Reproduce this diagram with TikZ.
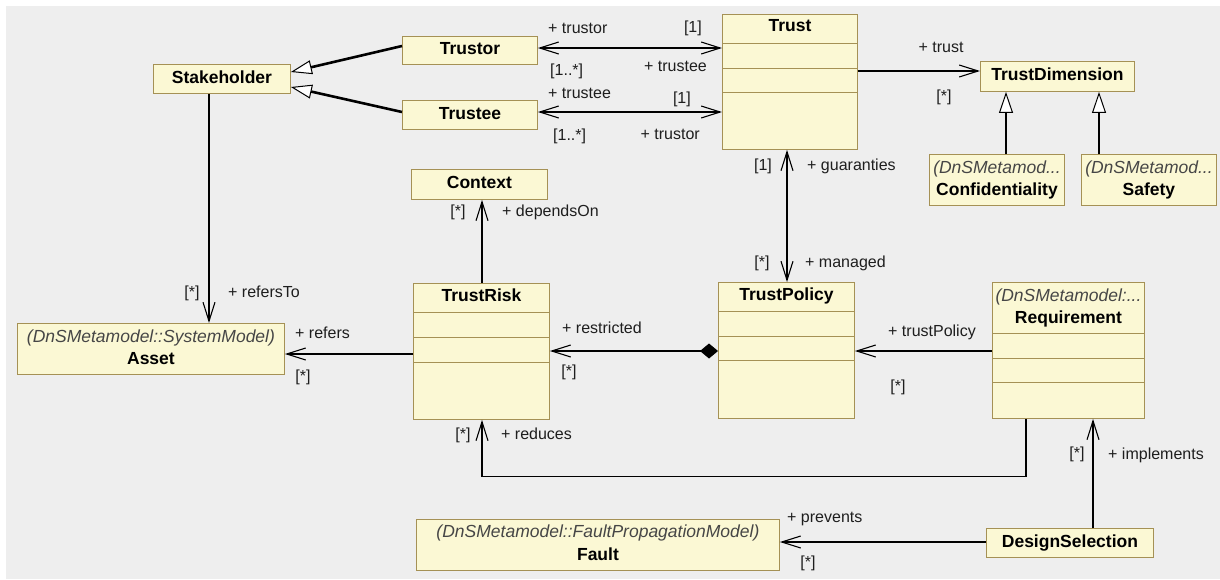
\documentclass[tikz,border=0pt]{standalone}
\usepackage{fontspec}
\setmainfont{Liberation Sans}
\usetikzlibrary{arrows.meta,calc}

\definecolor{bgray}{RGB}{238,238,238}
\definecolor{boxfill}{RGB}{251,248,212}
\definecolor{boxline}{RGB}{165,145,85}
\definecolor{stereogray}{RGB}{70,70,70}
\definecolor{lblgray}{RGB}{30,30,30}

\newcommand\lblsize{\fontsize{16}{19}\selectfont}
\newcommand\namesize{\fontsize{17.5}{21}\selectfont}

\tikzset{
  cls/.style={rectangle, draw=boxline, fill=boxfill, line width=0.9pt, inner sep=0pt, anchor=north west},
  cname/.style={font=\namesize\bfseries, inner sep=0pt, text height=12.5pt, text depth=3.6pt},
  cstereo/.style={font=\namesize\itshape, text=stereogray, inner sep=0pt, text height=12.5pt, text depth=3.6pt},
  role/.style={font=\lblsize, text=lblgray, inner sep=0pt, text height=11.5pt, text depth=3.3pt},
  complin/.style={draw=boxline, line width=0.9pt},
  assoc/.style={line width=1.1pt, black},
  nav/.style={assoc, -{Straight Barb[length=19pt,width=12pt]}},
  binav/.style={assoc, {Straight Barb[length=19pt,width=12pt]}-{Straight Barb[length=19pt,width=12pt]}},
  compo/.style={assoc, {Diamond[length=18pt,width=15pt]}-{Straight Barb[length=19pt,width=12pt]}},
  gen/.style={line width=2.6pt, black, -{Triangle[length=21pt,width=14pt,line width=1pt,fill=white]}},
}

% horizontal compartment separator inside a class box
\newcommand\compsep[2]{\draw[complin] ($(#1.north west)+(0,#2)$) -- ($(#1.north east)+(0,#2)$);}

\begin{document}
\begin{tikzpicture}[x=1pt,y=-1pt]
\useasboundingbox (0,0) rectangle (1220,579);
\fill[white] (0,0) rectangle (1220,579);
\fill[bgray] (6,6) rectangle (1220,579);

% ---------- classes ----------
\node[cls, cname, minimum width=137pt, minimum height=29pt] (stake) at (153,64) {Stakeholder};
\node[cls, cname, minimum width=135pt, minimum height=28pt] (trustor) at (402,36) {Trustor};
\node[cls, cname, minimum width=135pt, minimum height=29pt] (trustee) at (402,100) {Trustee};

\node[cls, minimum width=135pt, minimum height=135pt] (trust) at (722,14) {};
\node[cname] (trust-n) at ($(trust.north)+(0,13.5)$) {Trust};
\compsep{trust}{29}\compsep{trust}{54}\compsep{trust}{78}

\node[cls, cname, minimum width=154pt, minimum height=30pt] (tdim) at (980,61) {TrustDimension};

\node[cls, minimum width=135pt, minimum height=51pt] (conf) at (929,154) {};
\node[cstereo] (conf-s) at ($(conf.north)+(0,15)$) {(DnSMetamod...};
\node[cname] (conf-n) at ($(conf.north)+(0,37.5)$) {Confidentiality};

\node[cls, minimum width=135pt, minimum height=51pt] (safety) at (1081,154) {};
\node[cstereo] (safety-s) at ($(safety.north)+(0,15)$) {(DnSMetamod...};
\node[cname] (safety-n) at ($(safety.north)+(0,37.5)$) {Safety};

\node[cls, cname, minimum width=136pt, minimum height=30pt] (context) at (411,169) {Context};

\node[cls, minimum width=136pt, minimum height=136pt] (trisk) at (413,283) {};
\node[cname] (trisk-n) at ($(trisk.north)+(0,14)$) {TrustRisk};
\compsep{trisk}{29}\compsep{trisk}{54}\compsep{trisk}{79}

\node[cls, minimum width=267pt, minimum height=51pt] (asset) at (17,323) {};
\node[cstereo] (asset-s) at ($(asset.north)+(0,15.5)$) {(DnSMetamodel::SystemModel)};
\node[cname] (asset-n) at ($(asset.north)+(0,37)$) {Asset};

\node[cls, minimum width=136pt, minimum height=136pt] (tpol) at (718,282) {};
\node[cname] (tpol-n) at ($(tpol.north)+(0,14)$) {TrustPolicy};
\compsep{tpol}{29}\compsep{tpol}{54}\compsep{tpol}{78}

\node[cls, minimum width=152pt, minimum height=136pt] (req) at (992,282) {};
\node[cstereo] (req-s) at ($(req.north)+(0,15.5)$) {(DnSMetamodel:...};
\node[cname] (req-n) at ($(req.north)+(0,37)$) {Requirement};
\compsep{req}{51}\compsep{req}{76}\compsep{req}{100}

\node[cls, minimum width=363pt, minimum height=51pt] (fault) at (416,519) {};
\node[cstereo] (fault-s) at ($(fault.north)+(0,14.5)$) {(DnSMetamodel::FaultPropagationModel)};
\node[cname] (fault-n) at ($(fault.north)+(0,37)$) {Fault};

\node[cls, cname, minimum width=167pt, minimum height=29pt] (dsel) at (986,528) {DesignSelection};

% ---------- generalizations ----------
\draw[gen] ($(trustor.north west)+(0,10)$) -- ($(stake.north east)+(0,8)$);
\draw[gen] ($(trustee.north west)+(0,12)$) -- ($(stake.north east)+(0,23)$);
\draw[gen] ($(conf.north west)+(77,0)$) -- ($(tdim.south west)+(26,0)$);
\draw[gen] ($(safety.north west)+(18,0)$) -- ($(tdim.south west)+(119,0)$);

% ---------- associations ----------
\draw[binav] ($(trustor.north east)+(0,12)$) -- ($(trust.north west)+(0,34)$);
\draw[binav] ($(trustee.north east)+(0,12)$) -- ($(trust.north west)+(0,98)$);
\draw[nav] ($(trust.north east)+(0,57)$) -- ($(tdim.north west)+(0,10)$);
\draw[binav] ($(trust.south west)+(65,0)$) -- ($(tpol.north west)+(69,0)$);
\draw[nav] ($(trisk.north west)+(69,0)$) -- ($(context.south west)+(71,0)$);
\draw[nav] ($(stake.south west)+(56,0)$) -- ($(asset.north west)+(192,0)$);
\draw[nav] ($(trisk.north west)+(0,71)$) -- ($(asset.north east)+(0,31)$);
\draw[compo] ($(tpol.north west)+(0,69)$) -- ($(trisk.north east)+(0,68)$);
\draw[nav] ($(req.north west)+(0,69)$) -- ($(tpol.north east)+(0,69)$);
\draw[nav] ($(req.south west)+(34,0)$) -- ++(0,58) -| ($(trisk.south west)+(69,0)$);
\draw[nav] ($(dsel.north west)+(107,0)$) -- ($(req.south west)+(101,0)$);
\draw[nav] ($(dsel.north west)+(0,14)$) -- ($(fault.north east)+(0,23)$);

% ---------- role names and multiplicities ----------
\node[role, anchor=west] (r-trustor1) at (548,29) {+ trustor};
\node[role, anchor=west] (m-trustor1) at (550,71) {[1..*]};
\node[role, anchor=east] (m-trust1) at (702,28) {[1]};
\node[role, anchor=east] (r-trustee1) at (707,67) {+ trustee};

\node[role, anchor=west] (r-trustee2) at (548,94) {+ trustee};
\node[role, anchor=west] (m-trustee2) at (553,136) {[1..*]};
\node[role, anchor=east] (m-trust2) at (691,99) {[1]};
\node[role, anchor=east] (r-trustor2) at (700,135) {+ trustor};

\node[role] (r-trust) at (941,48) {+ trust};
\node[role] (m-tdim) at (944,97) {[*]};

\node[role] (m-guar) at (763,166) {[1]};
\node[role, anchor=west] (r-guar) at (807,166) {+ guaranties};
\node[role] (m-man) at (762,263) {[*]};
\node[role, anchor=west] (r-man) at (805,263) {+ managed};

\node[role] (m-dep) at (458,212) {[*]};
\node[role, anchor=west] (r-dep) at (502,212) {+ dependsOn};

\node[role] (m-refto) at (192,293) {[*]};
\node[role, anchor=west] (r-refto) at (228,293) {+ refersTo};
\node[role, anchor=west] (r-refers) at (295,334) {+ refers};
\node[role] (m-refers) at (303,377) {[*]};

\node[role, anchor=west] (r-restr) at (562,329) {+ restricted};
\node[role] (m-restr) at (569,372) {[*]};

\node[role, anchor=west] (r-tpol) at (888,332) {+ trustPolicy};
\node[role] (m-tpol) at (898,387) {[*]};

\node[role] (m-red) at (463,435) {[*]};
\node[role, anchor=west] (r-red) at (501,435) {+ reduces};

\node[role] (m-impl) at (1077,454) {[*]};
\node[role, anchor=west] (r-impl) at (1108,455) {+ implements};

\node[role, anchor=west] (r-prev) at (787,518) {+ prevents};
\node[role] (m-prev) at (808,563) {[*]};
\end{tikzpicture}
\end{document}
